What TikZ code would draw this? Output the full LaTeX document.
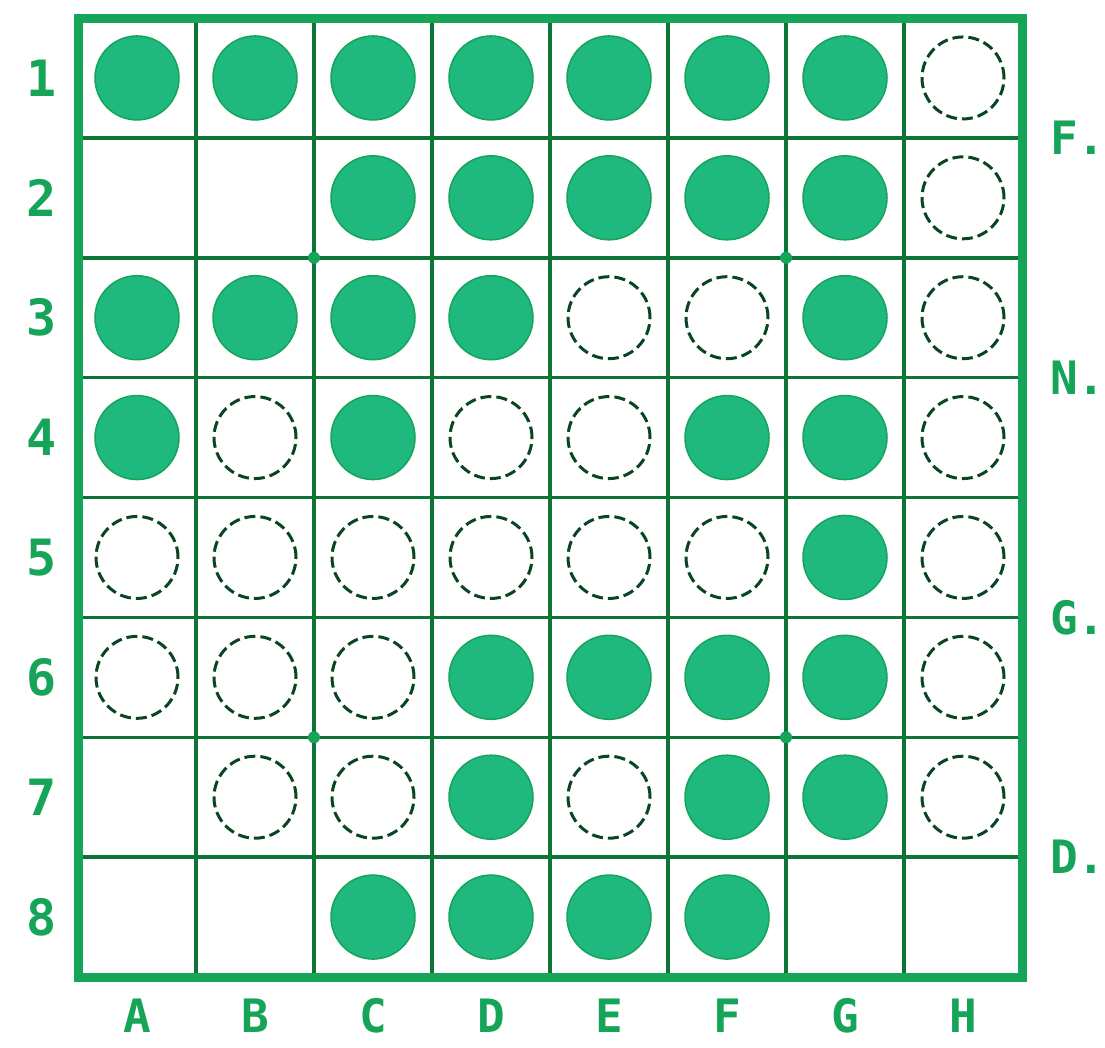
\documentclass[tikz,border=0pt]{standalone}
\usepackage{fontspec}
\setmonofont{DejaVu Sans Mono}
\usepackage{tikz}
\definecolor{board}{HTML}{16A458}
\definecolor{grid}{HTML}{0D7438}
\definecolor{stone}{HTML}{1FB87F}
\definecolor{ring}{HTML}{0A4521}
\tikzset{frame/.style={draw=board,line width=9pt},
  gridline/.style={draw=grid,line width=3.5pt},
  filled/.style={fill=stone,draw=board,line width=1.5pt},
  hollow/.style={draw=ring,line width=3pt,dash pattern=on 11pt off 5pt},
  lbl/.style={text=board,inner sep=0pt,font=\fontsize{50}{50}\selectfont\ttfamily\bfseries}}

\begin{document}
\begin{tikzpicture}[x=1pt,y=-1pt]
\useasboundingbox (0,0) rectangle (1105,1047);
% grid lines and frame
\foreach \i in {1,...,7}{
  \draw[gridline] ({78+118*\i},18) -- ({78+118*\i},977);
  \draw[gridline] (78,{18+119.875*\i}) -- (1022,{18+119.875*\i});}
\draw[frame] (78,18) rectangle (1022,977);
% star points
\foreach \x/\y in {3/3,7/3,3/7,7/7}
  \fill[board] ({78+118*(\x-1)},{18+119.875*(\y-1)}) circle (6pt);
% stones: 0 empty, 1 green, 2 open
\foreach \j/\cells in {1/{1,1,1,1,1,1,1,2},2/{0,0,1,1,1,1,1,2},
    3/{1,1,1,1,2,2,1,2},4/{1,2,1,2,2,1,1,2},5/{2,2,2,2,2,2,1,2},
    6/{2,2,2,1,1,1,1,2},7/{0,2,2,1,2,1,1,2},8/{0,0,1,1,1,1,0,0}}
  \foreach \s [count=\i] in \cells {
    \ifnum\s=1 \filldraw[filled] ({19+118*\i},{18+119.875*(\j-0.5)}) circle (42pt);\fi
    \ifnum\s=2 \draw[hollow] ({19+118*\i},{18+119.875*(\j-0.5)}) circle (41pt);\fi}
% labels
\foreach \j in {1,...,8}
  \node[lbl] (row\j) at (42,{18+119.875*(\j-0.5)}) {\j};
\foreach \c [count=\i] in {A,B,C,D,E,F,G,H}
  \node[lbl,font=\fontsize{46}{46}\selectfont\ttfamily\bfseries] (col\c) at ({19+118*\i},1016) {\c};
\foreach \t [count=\k] in {F,N,G,D}
  \node[lbl,anchor=west,font=\fontsize{46}{46}\selectfont\ttfamily\bfseries] (side\t) at (1050,{18+119.875*(2*\k-1)}) {\t.};
\end{tikzpicture}
\end{document}
